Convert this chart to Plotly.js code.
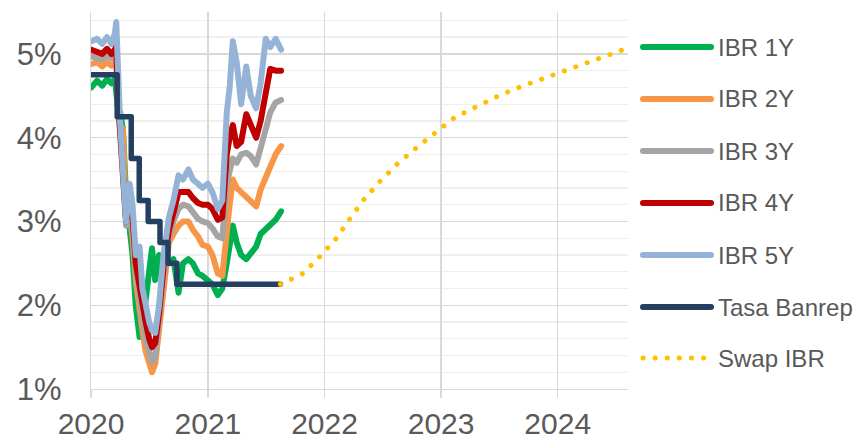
<!DOCTYPE html>
<html><head><meta charset="utf-8">
<script src="https://cdn.plot.ly/plotly-3.0.1.min.js"></script>
<style>
html,body{margin:0;padding:0;background:#fff;}
#chart{width:856px;height:440px;}
.scatterlayer path.js-line{stroke-linecap:round;stroke-linejoin:round;}
.shapelayer path{stroke-linecap:round;}
</style></head><body><div id="chart"></div>
<script>
// ---- data ----
const dates = ['2020-01-02','2020-01-20','2020-02-05','2020-02-20','2020-03-05','2020-03-16','2020-03-20','2020-03-25',
 '2020-04-01','2020-04-10','2020-04-20','2020-05-01','2020-05-10','2020-05-20','2020-06-01','2020-06-10','2020-06-20',
 '2020-07-01','2020-07-10','2020-07-20','2020-08-01','2020-08-15','2020-09-01','2020-09-15','2020-10-01','2020-10-15',
 '2020-11-01','2020-11-15','2020-12-01','2020-12-15','2021-01-01','2021-01-15','2021-02-01','2021-02-15','2021-03-01',
 '2021-03-10','2021-03-20','2021-04-01','2021-04-15','2021-05-01','2021-05-15','2021-06-01','2021-06-15','2021-07-01',
 '2021-07-15','2021-08-01','2021-08-18'];
const ibr1y = [4.60,4.68,4.62,4.70,4.65,4.70,4.55,4.35,4.30,4.10,3.30,2.95,2.60,2.00,1.62,1.75,2.10,2.50,2.68,2.30,2.60,2.55,
 2.50,2.55,2.15,2.50,2.55,2.50,2.38,2.35,2.30,2.25,2.12,2.20,2.50,2.70,2.95,2.75,2.60,2.55,2.62,2.70,2.85,2.90,2.95,3.02,3.12];
const ibr2y = [4.88,4.90,4.85,4.90,4.86,4.90,4.92,4.40,4.15,4.10,3.00,3.10,2.80,2.30,1.90,1.70,1.45,1.30,1.20,1.30,1.75,2.25,
 2.75,2.85,2.95,3.00,3.00,2.90,2.82,2.72,2.70,2.60,2.38,2.35,2.95,3.20,3.50,3.40,3.35,3.30,3.25,3.18,3.38,3.55,3.65,3.80,3.90];
const ibr3y = [4.97,4.95,4.93,4.98,4.95,4.98,5.00,4.45,4.10,3.55,2.95,3.20,2.90,2.40,2.00,1.85,1.60,1.40,1.32,1.40,1.85,2.35,
 2.80,3.00,3.15,3.20,3.18,3.10,3.03,3.00,2.98,2.92,2.82,2.80,3.45,3.60,3.75,3.70,3.80,3.82,3.78,3.68,3.85,4.10,4.30,4.42,4.45];
const ibr4y = [5.05,5.03,5.00,5.06,5.00,5.05,5.10,4.50,4.15,3.55,3.00,3.30,3.05,2.50,2.20,2.00,1.80,1.60,1.50,1.55,1.90,2.45,
 2.90,3.10,3.35,3.35,3.35,3.28,3.22,3.20,3.20,3.15,3.02,3.05,3.80,4.00,4.15,3.90,3.95,4.28,4.15,4.00,4.20,4.50,4.82,4.80,4.80];
const ibr5y = [5.15,5.18,5.12,5.20,5.12,5.25,5.38,4.60,4.20,3.60,3.00,3.45,3.20,2.60,2.70,2.20,2.00,1.80,1.70,1.67,2.00,2.60,
 3.05,3.25,3.55,3.50,3.62,3.50,3.45,3.40,3.45,3.35,3.15,3.25,4.30,4.60,5.15,4.90,4.40,4.85,4.50,4.35,4.65,5.18,5.08,5.18,5.05];
const banrepDates = ['2020-01-01','2020-03-23','2020-05-06','2020-05-31','2020-06-28','2020-08-04','2020-08-29','2020-09-26','2021-08-16'];
const banrepRate  = [4.75,4.25,3.75,3.25,3.00,2.75,2.50,2.25,2.25];
const swapDates = ['2021-08-16','2021-10-22','2021-12-15','2022-02-05','2022-03-21','2022-05-04','2022-06-24','2022-08-18',
 '2022-10-16','2022-12-14','2023-02-12','2023-04-22','2023-06-30','2023-09-08','2023-11-19','2024-01-30','2024-04-11','2024-06-22','2024-08-08'];
const swapIBR = [2.25,2.37,2.57,2.79,3.03,3.26,3.48,3.69,3.88,4.06,4.24,4.37,4.50,4.61,4.71,4.81,4.91,5.02,5.07];
const seriesNames = ['IBR 1Y','IBR 2Y','IBR 3Y','IBR 4Y','IBR 5Y','Tasa Banrep','Swap IBR'];
const yTickVals = [1,2,3,4,5];
const yTickText = ['1%','2%','3%','4%','5%'];

// ---- styles ----
const colors = ['#00b050','#f79646','#a5a5a5','#c00000','#95b3d7','#243f60','#ffc000'];
const dotDash = '0.1px,12px';
const lw = 6;

const xs = [dates,dates,dates,dates,dates,banrepDates,swapDates];
const ys = [ibr1y,ibr2y,ibr3y,ibr4y,ibr5y,banrepRate,swapIBR];
const traces = seriesNames.map((n,i)=>({
  x: xs[i], y: ys[i], name: n, type:'scatter', mode:'lines',
  line: {color: colors[i], width: i===6?5:(i===5?5.5:lw), shape: i===5?'hv':'linear', dash: i===6?dotDash:'solid'},
  hoverinfo:'skip', showlegend:false
}));

// custom legend (long symbol lines like the reference)
const plotTop = 12, plotBottom = 389;
const legYpx = [47,99,151,203,255,307,358];
const toPaperY = p => (plotBottom - p)/(plotBottom - plotTop);
const plotLeft = 91, plotRight = 628;
const toPaperX = p => (p - plotLeft)/(plotRight - plotLeft);
const shapes = [], annotations = [];
seriesNames.forEach((n,i)=>{
  const yy = toPaperY(legYpx[i]);
  shapes.push({type:'line', xref:'paper', yref:'paper', x0: toPaperX(643), x1: toPaperX(i===6?706:711), y0: yy, y1: yy,
    line:{color: colors[i], width: i===6?5:6, dash: i===6?dotDash:'solid'}});
  annotations.push({xref:'paper', yref:'paper', x: toPaperX(716), y: yy, xanchor:'left', yanchor:'middle',
    text: n, showarrow:false, font:{family:'Liberation Sans, Arial, sans-serif', size:24, color:'#595959'}});
});

const layout = {
  width:856, height:440,
  margin:{l:plotLeft, r:856-plotRight, t:plotTop, b:440-plotBottom},
  paper_bgcolor:'#fff', plot_bgcolor:'#fff',
  font:{family:'Liberation Sans, Arial, sans-serif', color:'#595959'},
  showlegend:false,
  xaxis:{type:'date', range:['2020-01-01','2024-08-08'], dtick:'M12', tick0:'2020-01-01', tickformat:'%Y',
    showgrid:true, gridcolor:'#d9d9d9', gridwidth:1.3, showline:true, linecolor:'#d9d9d9', linewidth:1.3,
    ticks:'outside', ticklen:8, tickcolor:'#d9d9d9', tickwidth:1.3,
    tickfont:{size:30, color:'#595959'}, zeroline:false},
  yaxis:{range:[1,5.5], tickvals:yTickVals, ticktext:yTickText, showgrid:true, gridcolor:'#d9d9d9', gridwidth:1.3,
    minor:{dtick:0.2, tick0:1, showgrid:true, gridcolor:'#efefef', gridwidth:1.3},
    showline:true, linecolor:'#d9d9d9', linewidth:1.3, ticks:'', ticklabelstandoff:22,
    tickfont:{size:31, color:'#595959'}, zeroline:false},
  shapes: shapes, annotations: annotations
};
Plotly.newPlot('chart', traces, layout, {staticPlot:true, displayModeBar:false});
</script></body></html>
